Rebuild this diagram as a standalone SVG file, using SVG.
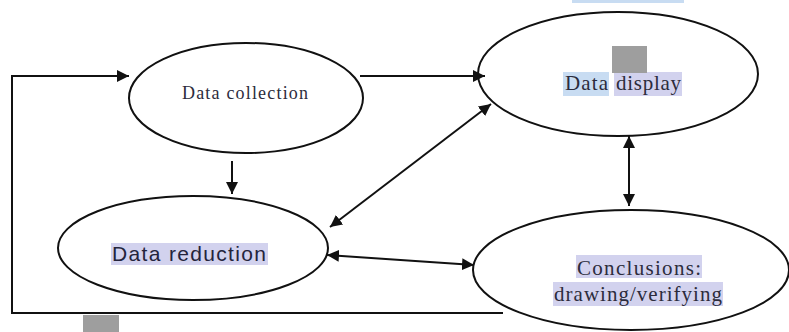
<svg xmlns="http://www.w3.org/2000/svg" width="789" height="332" viewBox="0 0 789 332">
<style>
.node{fill:none;stroke:#111;stroke-width:2}
.serif{font-family:"Liberation Serif","Times New Roman",serif;fill:#2c2c3c}
.sans{font-family:"Liberation Sans",Arial,sans-serif;fill:#24243c}
.conn{fill:none;stroke:#111;stroke-width:2}
.hlb{fill:#c8dcf2}
.hlp{fill:#d2d2ee}
.gray{fill:#9e9e9e}
</style>
<defs>
<marker id="ah" viewBox="0 0 10 10" refX="10" refY="5" markerWidth="6" markerHeight="6" orient="auto-start-reverse" markerUnits="strokeWidth">
<path d="M0,0 L10,5 L0,10 z" fill="#111"/>
</marker>
</defs>
<rect width="789" height="332" fill="#fff"/>
<rect class="hlb" x="572" y="0" width="112" height="3"/>
<g id="connectors">
<polyline class="conn" points="503,313 12,313 12,76 129,76" marker-end="url(#ah)"/>
<line class="conn" x1="360" y1="76" x2="485" y2="76" marker-end="url(#ah)"/>
<line class="conn" x1="232" y1="161" x2="232" y2="194" marker-end="url(#ah)"/>
<line class="conn" x1="330" y1="227" x2="491" y2="104" marker-start="url(#ah)" marker-end="url(#ah)"/>
<line class="conn" x1="327" y1="255" x2="474" y2="265" marker-start="url(#ah)" marker-end="url(#ah)"/>
<line class="conn" x1="629" y1="136" x2="629" y2="206" marker-start="url(#ah)" marker-end="url(#ah)"/>
</g>
<g id="data-collection">
<ellipse class="node" cx="246" cy="98" rx="117" ry="55" fill="#fff"/>
<text class="serif" x="182" y="99" font-size="18" textLength="126" lengthAdjust="spacing">Data collection</text>
</g>
<g id="data-display">
<ellipse class="node" cx="618" cy="74" rx="140" ry="62"/>
<rect class="hlb" x="563" y="72" width="46" height="24"/>
<rect class="hlp" x="614" y="72" width="68" height="24"/>
<rect class="gray" x="612" y="46" width="35" height="27"/>
<text class="serif" x="565" y="90" font-size="21" textLength="43" lengthAdjust="spacing">Data</text>
<text class="serif" x="616" y="90" font-size="21" textLength="65" lengthAdjust="spacing">display</text>
</g>
<g id="data-reduction">
<ellipse class="node" cx="193" cy="248" rx="135" ry="52"/>
<rect class="hlp" x="111" y="243" width="157" height="22"/>
<text class="sans" x="112" y="261" font-size="21" textLength="154" lengthAdjust="spacing">Data reduction</text>
</g>
<g id="conclusions">
<ellipse class="node" cx="631" cy="270" rx="158" ry="60"/>
<rect class="hlp" x="576" y="255" width="126" height="23"/>
<rect class="hlp" x="553" y="282" width="170" height="24"/>
<text class="serif" x="577" y="275" font-size="21" textLength="124" lengthAdjust="spacing">Conclusions:</text>
<text class="serif" x="554" y="301" font-size="21" textLength="168" lengthAdjust="spacing">drawing/verifying</text>
</g>
<rect class="gray" x="83" y="315" width="36" height="17"/>
</svg>
